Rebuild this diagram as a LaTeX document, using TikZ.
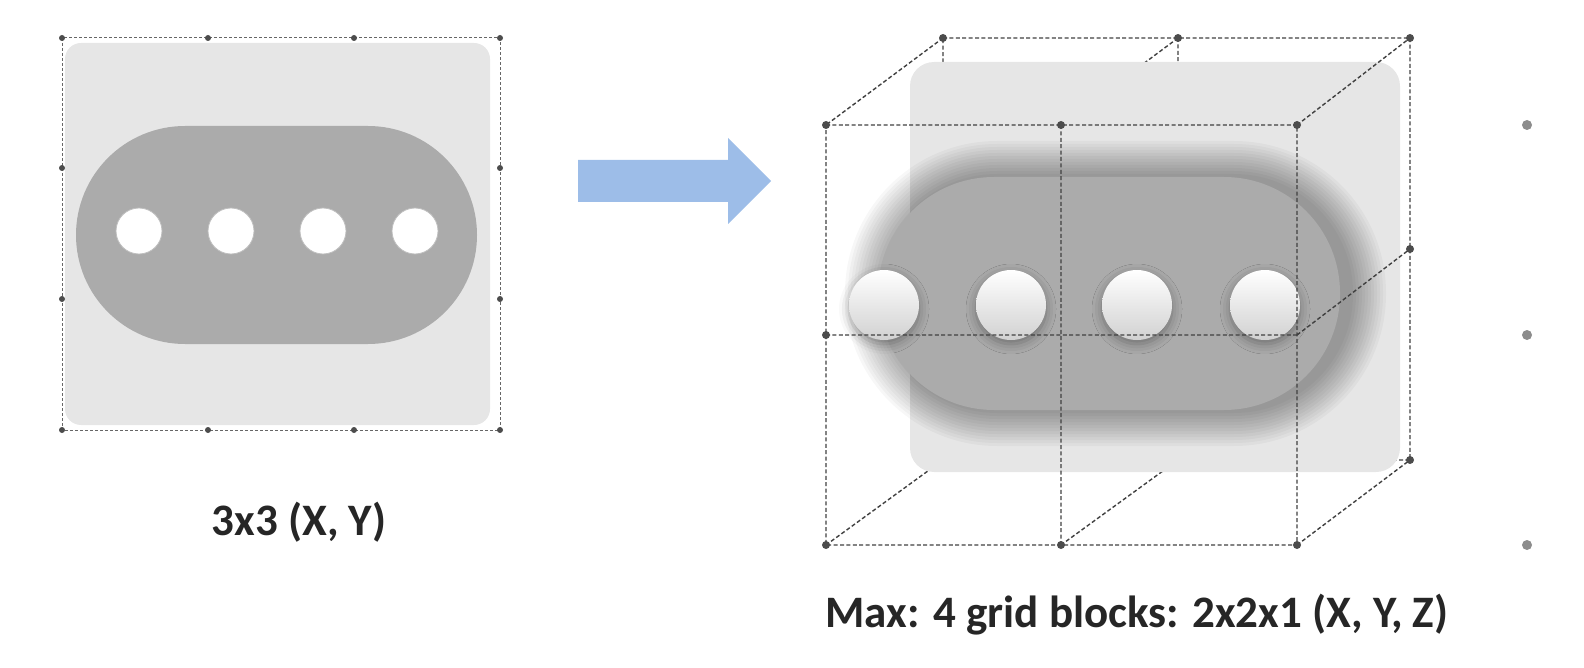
\documentclass[tikz,border=0pt]{standalone}
\usepackage{fontspec}
\setmainfont{Carlito}
\usetikzlibrary{shadows.blur}
\definecolor{panel}{HTML}{E6E6E6}
\definecolor{stad}{HTML}{ABABAB}
\definecolor{arr}{HTML}{9DBDE8}
\begin{document}
\begin{tikzpicture}[x=0.5pt,y=-0.5pt,
  dl/.style={line width=0.7pt,draw=black!75,dash pattern=on 2pt off 1.2pt},
  dot/.style={circle,fill=black!70,inner sep=0pt,minimum size=4pt},
  gdot/.style={circle,fill=black!45,inner sep=0pt,minimum size=5pt},
  hole/.style={circle,draw=black!25,line width=0.4pt,fill=white},
  hole3/.style={circle,inner sep=0pt,minimum size=35pt,top color=white,bottom color=black!18,blur shadow={shadow xshift=0pt,shadow yshift=-2pt,shadow blur radius=5pt,shadow opacity=35}},
  lbl/.style={font=\bfseries\fontsize{22.5}{25}\selectfont,text=black!85}]
\useasboundingbox (0,0) rectangle (1584,668);
% ---------- left ----------
\fill[panel,rounded corners=8pt] (65,43) rectangle (490,425);
\fill[stad,rounded corners=54.5pt] (76,126) rectangle (477,344);
\foreach \x/\n in {139/a,231/b,323/c,415/d}
  \node[hole,minimum size=23pt,inner sep=0pt] (h\n) at (\x,231) {};
\draw[line width=0.5pt,draw=black!60,dash pattern=on 1.5pt off 1pt] (62,38) rectangle (500,430);
\foreach \x in {62,208,354,500}{\node[dot,minimum size=3pt] at (\x,38) {};\node[dot,minimum size=3pt] at (\x,430) {};}
\foreach \y in {168,299}{\node[dot,minimum size=3pt] at (62,\y) {};\node[dot,minimum size=3pt] at (500,\y) {};}
\node[lbl] (l1) at (299,522) {3x3 (X, Y)};
% ---------- arrow ----------
\fill[arr] (578,160) -- (728,160) -- (728,138) -- (771,181) -- (728,224) -- (728,202) -- (578,202) -- cycle;
% ---------- right: back ----------
\coordinate (b1) at (943,38); \coordinate (b2) at (1178,38); \coordinate (b3) at (1410,38);
\coordinate (b6) at (1410,249); \coordinate (b9) at (1410,460);
\coordinate (b4) at (943,249); \coordinate (b7) at (943,460); \coordinate (b8) at (1178,460);
\coordinate (f1) at (826,125); \coordinate (f2) at (1061,125); \coordinate (f3) at (1297,125);
\coordinate (f4) at (826,335); \coordinate (f5) at (1061,335); \coordinate (f6) at (1297,335);
\coordinate (f7) at (826,545); \coordinate (f8) at (1061,545); \coordinate (f9) at (1297,545);
\draw[dl] (b1)--(b3)--(b9)--(b7)--cycle (b2)--(b8) (b1)--(f1) (b2)--(f2) (b7)--(f7) (b8)--(f8);
\fill[panel,rounded corners=12pt] (910,62) rectangle (1400,472);
% soft shadow of the plate
\foreach \i in {1,...,12}
  \fill[black,opacity=0.03,rounded corners={(58+\i*1.5)*1pt}] ({878+3-\i*3},{177-\i*3}) rectangle ({1340+10+\i*3},{410+\i*3});
\fill[stad,rounded corners=58pt] (878,177) rectangle (1340,410);
\foreach \x/\n in {884/a,1011/b,1137/c,1265/d}
  \node[hole3] (k\n) at (\x,305) {};
% ---------- right: front ----------
\draw[dl] (f1)--(f3)--(f9)--(f7)--cycle (f2)--(f8) (f4)--(f6)
  (f3)--(b3) (f6)--(b6) (f9)--(b9);
\foreach \p in {b1,b2,b3,b6,b9,f1,f2,f3,f4,f7,f8,f9}
  \node[dot] at (\p) {};
\foreach \y in {125,335,545} \node[gdot] at (1527,\y) {};
\node[lbl] (l2) at (1137,615) {Max: 4 grid blocks: 2x2x1 (X, Y, Z)};
\end{tikzpicture}
\end{document}
